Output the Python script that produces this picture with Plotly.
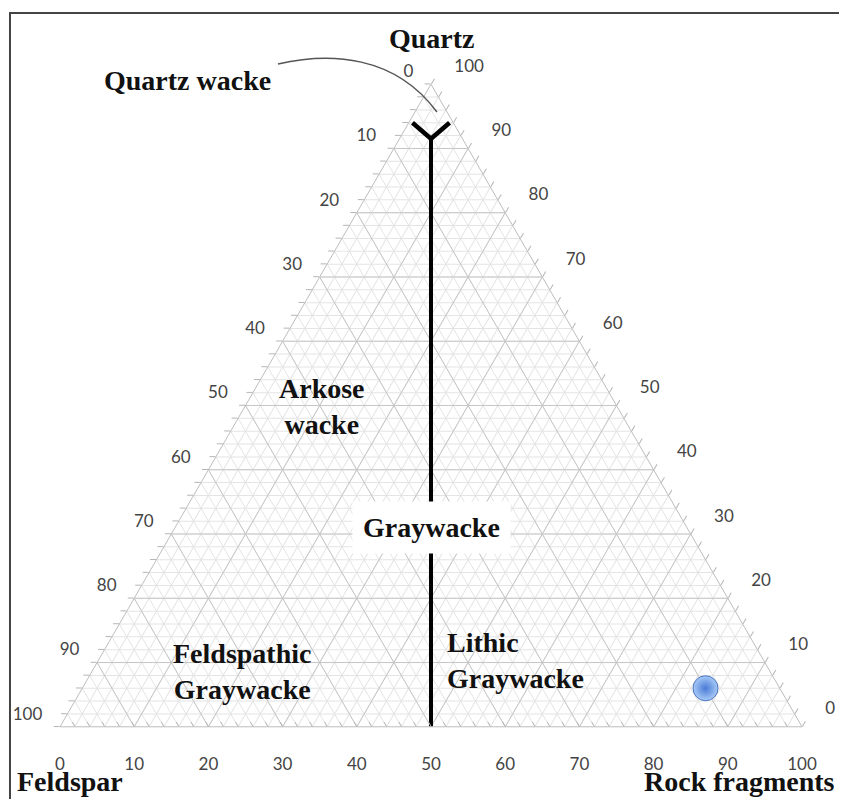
import plotly.graph_objects as go

# ---- data (ternary percentages: Quartz, Feldspar, Rock fragments) ----
sample_quartz = [6]
sample_feldspar = [10]
sample_rock = [84]

# Graywacke dividing line (Feldspar = Rock fragments)
divide_quartz = [0, 91.5]
divide_feldspar = [50, 4.25]
divide_rock = [50, 4.25]

# Quartz wacke "Y" boundary
ywacke_quartz = [94, 91.5, 94]
ywacke_feldspar = [5.5, 4.25, 0.5]
ywacke_rock = [0.5, 4.25, 5.5]

tick_values = list(range(0, 101, 2))
major_values = list(range(10, 100, 10))
NB = "&nbsp;"
# left edge (a-axis) shows Feldspar %, right edge (c-axis) shows Quartz %, bottom (b-axis) shows Rock fragments %
left_labels = [f"{100 - v}{NB * 2}<br>{NB}" if v % 10 == 0 else "" for v in tick_values]
right_labels = [f"{NB * 4}{100 - v}<br>{NB}" if v % 10 == 0 else "" for v in tick_values]
bottom_labels = [f"{NB}<br>{100 - v}" if v % 10 == 0 else "" for v in tick_values]

SERIF = "Liberation Serif"
TICKFONT = dict(family="Lato", size=17, color="#444444")
MAJOR_COLOR = "#c6c6c6"
MINOR_COLOR = "#e4e4e4"

fig = go.Figure()

# major grid lines every 10 (drawn as traces so they are darker than the minor grid)
for k in major_values:
    rest = 100 - k
    fig.add_trace(go.Scatterternary(a=[k, k], b=[rest, 0], c=[0, rest], mode="lines",
                                    line=dict(color=MAJOR_COLOR, width=1), hoverinfo="skip"))
    fig.add_trace(go.Scatterternary(a=[rest, 0], b=[k, k], c=[0, rest], mode="lines",
                                    line=dict(color=MAJOR_COLOR, width=1), hoverinfo="skip"))
    fig.add_trace(go.Scatterternary(a=[rest, 0], b=[0, rest], c=[k, k], mode="lines",
                                    line=dict(color=MAJOR_COLOR, width=1), hoverinfo="skip"))

fig.add_trace(go.Scatterternary(a=divide_quartz, b=divide_feldspar, c=divide_rock, mode="lines",
                                line=dict(color="black", width=4), hoverinfo="skip"))
fig.add_trace(go.Scatterternary(a=ywacke_quartz, b=ywacke_feldspar, c=ywacke_rock, mode="lines",
                                line=dict(color="black", width=4.5), hoverinfo="skip"))

fig.add_trace(go.Scatterternary(
    a=sample_quartz, b=sample_feldspar, c=sample_rock, mode="markers",
    marker=dict(size=25, color="#a8cbf7",
                gradient=dict(type="radial", color="#4a7ad6"),
                line=dict(width=1, color="#4a74c4")),
    name="Sample"))

axis_common = dict(
    tickmode="array", tickvals=tick_values, ticks="outside", ticklen=6,
    tickcolor="#b5b5b5", tickfont=TICKFONT, showgrid=True, gridcolor=MINOR_COLOR,
    gridwidth=1, linecolor="#bdbdbd", linewidth=1, title=dict(text=""),
)

# the page adds an 8px body margin, so the figure is 16px smaller than the window
fig.update_layout(
    width=831, height=791,
    margin=dict(l=52, r=37, t=76, b=72),
    paper_bgcolor="white",
    showlegend=False,
    ternary=dict(
        sum=100,
        bgcolor="white",
        aaxis=dict(axis_common, ticktext=left_labels),
        baxis=dict(axis_common, ticktext=bottom_labels, ticks="inside", ticklen=5),
        caxis=dict(axis_common, ticktext=right_labels),
    ),
)

label_font = dict(family=SERIF, size=28, color="#111111", weight="bold")

annotations = [
    dict(text="Quartz", x=0.501, y=1.0715, xanchor="center", yanchor="middle"),
    dict(text="Quartz wacke", x=0.1725, y=1.006, xanchor="center", yanchor="middle"),
    dict(text="Arkose<br>wacke", x=0.353, y=0.499, xanchor="center", yanchor="middle"),
    dict(text="Graywacke", x=0.501, y=0.311, xanchor="center", yanchor="middle",
         bgcolor="white", borderpad=10),
    dict(text="Feldspathic<br>Graywacke", x=0.245, y=0.087, xanchor="center", yanchor="middle"),
    dict(text="Lithic<br>Graywacke", x=0.519, y=0.103, xanchor="left", yanchor="middle", align="left"),
    dict(text="Feldspar", x=-0.0606, y=-0.0855, xanchor="left", yanchor="middle"),
    dict(text="Rock fragments", x=0.7844, y=-0.0855, xanchor="left", yanchor="middle"),
]
for ann in annotations:
    ann.update(xref="paper", yref="paper", showarrow=False, font=label_font)
fig.update_layout(annotations=annotations)

# curved leader line for "Quartz wacke" and the image frame
fig.update_layout(shapes=[
    dict(type="path", xref="paper", yref="paper",
         path="M 0.2938,1.0311 C 0.3639,1.0498 0.4515,1.0451 0.508,0.9564",
         line=dict(color="#555555", width=1.5)),
    dict(type="rect", xref="paper", yref="paper",
         x0=-0.0674, x1=1.3, y0=-0.3, y1=1.1104,
         line=dict(color="#444444", width=2)),
])

fig.write_html("out.html")
